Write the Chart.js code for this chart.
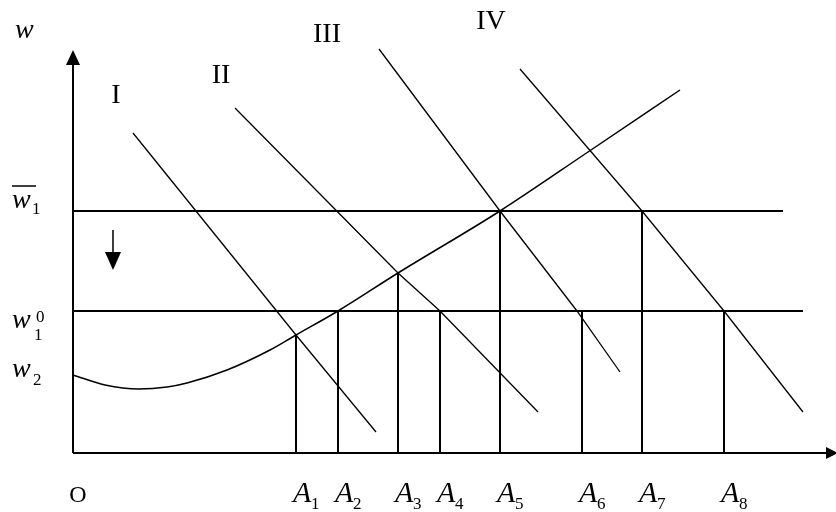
<!DOCTYPE html>
<html>
<head>
<meta charset="utf-8">
<script src="https://cdn.jsdelivr.net/npm/chart.js@4.4.0/dist/chart.umd.min.js"></script>
<style>
  html, body { margin: 0; padding: 0; background: #fff; }
</style>
</head>
<body>
<canvas id="myChart" width="836" height="512"></canvas>
<script>
// Оси (концы стрелок)
const xAxisEnd = 76.5;
const yAxisEnd = 40.3;

// Уровни заработной платы
const wageBar = 24.2;    // w̄1
const wageZero = 14.2;   // w1^0
const wageTwo = 7.8;     // w2
const wageBarEnd = 71.0;
const wageZeroEnd = 73.0;

// Кривая предложения
const supplyX = [0, 3.2, 6.6, 9.4, 11.4, 15.4, 19.7, 22.3, 26.5, 32.5, 42.7, 51.5, 60.7];
const supplyY = [7.8, 6.8, 6.4, 6.6, 7.0, 8.3, 10.3, 11.8, 14.2, 18.0, 24.2, 30.1, 36.3];

// Кривые спроса I - IV
const demandNames = ['I', 'II', 'III', 'IV'];
const demandIX = [6.0, 22.3, 30.3];
const demandIY = [32.0, 11.8, 2.1];
const demandIIX = [16.2, 32.5, 36.7, 46.5];
const demandIIY = [34.5, 18.0, 14.2, 4.1];
const demandIIIX = [30.6, 42.7, 50.4, 54.7];
const demandIIIY = [40.4, 24.2, 14.2, 8.1];
const demandIVX = [44.7, 56.9, 65.1, 73.0];
const demandIVY = [38.4, 24.2, 14.2, 4.1];

// Точки A1 - A8
const pointNames = ['1', '2', '3', '4', '5', '6', '7', '8'];
const pointX = [22.3, 26.5, 32.5, 36.7, 42.7, 50.9, 56.9, 65.1];
const pointY = [11.8, 14.2, 18.0, 14.2, 24.2, 14.2, 24.2, 14.2];

// Стрелка вниз
const arrowX = 4.0;
const arrowFrom = 22.3;
const arrowTo = 18.3;

let toPoints = (xs, ys) => xs.map((x, i) => ({x: x, y: ys[i]}));

let line = (pts, width, extra) => Object.assign({
  data: pts,
  showLine: true,
  borderColor: '#000',
  borderWidth: width,
  pointRadius: 0,
  fill: false,
  tension: 0
}, extra || {});

let datasets = [];
datasets.push(line([{x: 0, y: 0}, {x: xAxisEnd - 0.8, y: 0}], 2));
datasets.push(line([{x: 0, y: 0}, {x: 0, y: yAxisEnd - 1.2}], 2));
datasets.push(line([{x: 0, y: wageBar}, {x: wageBarEnd, y: wageBar}], 2));
datasets.push(line([{x: 0, y: wageZero}, {x: wageZeroEnd, y: wageZero}], 2));
pointX.forEach((x, i) => {
  datasets.push(line([{x: x, y: 0}, {x: x, y: pointY[i]}], 2));
});
datasets.push(line(toPoints(supplyX, supplyY), 1.5, {cubicInterpolationMode: 'monotone'}));
datasets.push(line(toPoints(demandIX, demandIY), 1.3));
datasets.push(line(toPoints(demandIIX, demandIIY), 1.3));
datasets.push(line(toPoints(demandIIIX, demandIIIY), 1.3));
datasets.push(line(toPoints(demandIVX, demandIVY), 1.3));
datasets.push(line([{x: arrowX, y: arrowFrom}, {x: arrowX, y: arrowTo + 1}], 1.5));

// Подписи и стрелки
let labelsPlugin = {
  id: 'labels',
  afterDatasetsDraw(chart) {
    let ctx = chart.ctx;
    let sx = chart.scales.x, sy = chart.scales.y;
    let px = v => sx.getPixelForValue(v);
    let py = v => sy.getPixelForValue(v);
    ctx.save();
    ctx.fillStyle = '#000';
    ctx.strokeStyle = '#000';

    // стрелка оси w
    let ox = px(0), oy = py(0);
    let ty = py(yAxisEnd);
    ctx.beginPath();
    ctx.moveTo(ox, ty);
    ctx.lineTo(ox - 7, ty + 15);
    ctx.lineTo(ox + 7, ty + 15);
    ctx.closePath();
    ctx.fill();

    // стрелка оси A
    let tx = px(xAxisEnd);
    ctx.beginPath();
    ctx.moveTo(tx, oy);
    ctx.lineTo(tx - 12, oy - 6);
    ctx.lineTo(tx - 12, oy + 6);
    ctx.closePath();
    ctx.fill();

    // стрелка вниз
    let ax = px(arrowX), ay = py(arrowTo);
    ctx.beginPath();
    ctx.moveTo(ax, ay);
    ctx.lineTo(ax - 8, ay - 18);
    ctx.lineTo(ax + 8, ay - 18);
    ctx.closePath();
    ctx.fill();

    ctx.textBaseline = 'alphabetic';
    ctx.textAlign = 'left';

    // w
    ctx.font = "italic 28px 'Liberation Serif'";
    ctx.fillText('w', ox - 58, 38);

    // Римские цифры
    ctx.font = "28px 'Liberation Serif'";
    ctx.textAlign = 'center';
    let romanPos = [[116, 103], [221, 83], [327, 42], [491, 29]];
    demandNames.forEach((n, i) => ctx.fillText(n, romanPos[i][0], romanPos[i][1]));

    // O
    ctx.font = "24px 'Liberation Serif'";
    ctx.fillText('O', ox + 5, oy + 49);

    // A1..A8
    ctx.textAlign = 'left';
    pointX.forEach((x, i) => {
      let lx = px(x);
      ctx.font = "italic 30px 'Liberation Serif'";
      ctx.fillText('A', lx - 3, oy + 49);
      ctx.font = "17px 'Liberation Serif'";
      ctx.fillText(pointNames[i], lx + 15, oy + 56);
    });

    // w̄1
    let lxw = ox - 61;
    let yb = py(wageBar);
    ctx.font = "italic 28px 'Liberation Serif'";
    ctx.fillText('w', lxw, yb - 3);
    ctx.font = "17px 'Liberation Serif'";
    ctx.fillText('1', lxw + 20, yb + 3);
    ctx.lineWidth = 1.5;
    ctx.beginPath();
    ctx.moveTo(lxw, yb - 25);
    ctx.lineTo(lxw + 24, yb - 25);
    ctx.stroke();

    // w1^0
    let yz = py(wageZero);
    ctx.font = "italic 28px 'Liberation Serif'";
    ctx.fillText('w', lxw, yz + 17);
    ctx.font = "17px 'Liberation Serif'";
    ctx.fillText('0', lxw + 24, yz + 11);
    ctx.fillText('1', lxw + 22, yz + 29);

    // w2
    let yt = py(wageTwo);
    ctx.font = "italic 28px 'Liberation Serif'";
    ctx.fillText('w', lxw, yt + 2);
    ctx.font = "17px 'Liberation Serif'";
    ctx.fillText('2', lxw + 21, yt + 10);

    ctx.restore();
  }
};

let canvas = document.querySelector('#myChart');
let context = canvas.getContext('2d');
let chart = new Chart(context, {
  type: 'scatter',
  data: { datasets: datasets },
  options: {
    responsive: false,
    animation: false,
    devicePixelRatio: 1,
    layout: { padding: 0 },
    scales: {
      x: { type: 'linear', min: -7.3, max: 76.3, display: false },
      y: { type: 'linear', min: -5.9, max: 45.3, display: false }
    },
    plugins: {
      legend: { display: false },
      tooltip: { enabled: false }
    }
  },
  plugins: [labelsPlugin]
});
</script>
</body>
</html>
